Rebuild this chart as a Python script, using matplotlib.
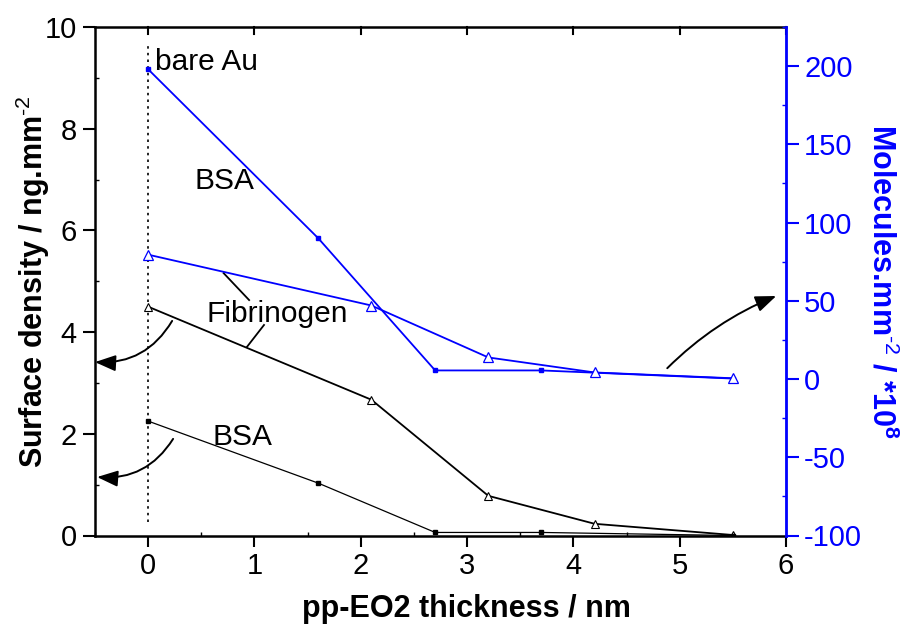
import matplotlib
matplotlib.use("Agg")
import matplotlib.pyplot as plt
from matplotlib.ticker import MultipleLocator

plt.rcParams['font.family'] = ['Liberation Sans', 'DejaVu Sans']
plt.rcParams['axes.unicode_minus'] = False
plt.rcParams['mathtext.fontset'] = 'custom'
plt.rcParams['mathtext.rm'] = 'Liberation Sans'
plt.rcParams['mathtext.bf'] = 'Liberation Sans:bold'

# Left axis (surface density, ng/mm^2)
fib_x = [0, 2.1, 3.2, 4.2, 5.5]
fib_density = [4.5, 2.67, 0.78, 0.23, 0.01]
bsa_x = [0, 1.6, 2.7, 3.7, 5.5]
bsa_density = [2.25, 1.03, 0.06, 0.06, 0.0]

# Right axis (molecules/mm^2, *1e8)
bsa_molecules = [198, 90, 5.5, 5.5, 0.3]
fib_molecules = [79.5, 47, 13.8, 4.2, 0.5]

x_ticks = [0, 1, 2, 3, 4, 5, 6]
left_ticks = [0, 2, 4, 6, 8, 10]
right_ticks = [-100, -50, 0, 50, 100, 150, 200]

BLUE = '#0000ff'
FS = 21
LFS = 22

fig = plt.figure(figsize=(9.07, 6.25), dpi=100)
ax = fig.add_axes([0.1047, 0.1432, 0.7619, 0.8136])
ax2 = ax.twinx()

ax.plot(fib_x, fib_density, color='black', lw=1.3, marker='^', ms=6,
        mfc='white', mec='black', mew=0.8, zorder=3)
ax.plot(bsa_x, bsa_density, color='black', lw=0.9, marker='s', ms=3,
        mfc='black', mec='black', zorder=3)
ax2.plot(bsa_x, bsa_molecules, color=BLUE, lw=1.3, marker='s', ms=3,
         mfc=BLUE, mec=BLUE, zorder=3)
ax2.plot(fib_x, fib_molecules, color=BLUE, lw=1.3, marker='^', ms=7,
         mfc='white', mec=BLUE, mew=0.9, zorder=3)

ax.plot([0, 0], [0.27, 9.65], color='black', lw=1.2, ls=(0, (1.5, 2.5)))

ax.set_xlim(-0.5, 6)
ax.set_ylim(0, 10)
ax2.set_ylim(-100, 225)

ax.set_xticks(x_ticks)
ax.set_yticks(left_ticks)
ax2.set_yticks(right_ticks)
ax.xaxis.set_minor_locator(MultipleLocator(0.5))
ax.yaxis.set_minor_locator(MultipleLocator(1))
ax2.yaxis.set_minor_locator(MultipleLocator(25))

ax.tick_params(axis='x', which='major', direction='out', length=8, width=1.5,
               labelsize=FS, top=False, pad=4)
ax.tick_params(axis='x', which='minor', direction='in', length=3, width=1, top=False)
ax.tick_params(axis='y', which='major', direction='out', length=9, width=1.5,
               labelsize=FS, pad=4)
ax.tick_params(axis='y', which='minor', direction='in', length=3, width=1)
ax2.tick_params(axis='y', which='major', direction='out', length=9, width=1.5,
                labelsize=FS, colors=BLUE, pad=4)
ax2.tick_params(axis='y', which='minor', direction='in', length=3, width=1, colors=BLUE)

# top ticks inward at majors
for xt in x_ticks:
    ax.plot([xt, xt], [10, 9.86], color='black', lw=1.5, clip_on=False)

for s in ['left', 'bottom', 'top']:
    ax.spines[s].set_linewidth(1.8)
ax2.spines['right'].set_color(BLUE)
ax2.spines['right'].set_linewidth(2)
for s in ['left', 'bottom', 'top']:
    ax2.spines[s].set_visible(False)

ax.set_xlabel('pp-EO2 thickness / nm', fontsize=LFS, fontweight='bold')
ax.xaxis.set_label_coords(0.537, -0.115)
ax.set_ylabel('Surface density / ng.mm$^{\\text{-2}}$', fontsize=LFS,
              fontweight='bold', labelpad=0)
ax.yaxis.set_label_coords(-0.062, 0.5)
ax2.set_ylabel('Molecules.mm$^{\\text{-2}}$ / *10$^{\\mathbf{8}}$', fontsize=LFS,
               fontweight='bold', color=BLUE, rotation=270, labelpad=0)
ax2.yaxis.set_label_coords(1.161, 0.5)

# annotations
AFS = 21.5
ax.text(0.066, 9.31, 'bare Au', fontsize=AFS, va='center', ha='left')
ax.text(0.44, 6.97, 'BSA', fontsize=AFS, va='center', ha='left')
ax.text(0.55, 4.36, 'Fibrinogen', fontsize=AFS, va='center', ha='left')
ax.text(0.61, 1.94, 'BSA', fontsize=AFS, va='center', ha='left')

# leader lines
ax.plot([0.71, 0.95], [5.16, 4.63], color='black', lw=1.3)
ax.plot([1.09, 0.93], [4.14, 3.71], color='black', lw=1.3)

arrow_style = '-|>,head_length=0.9,head_width=0.35'
ax.annotate('', xy=(-0.5, 3.41), xytext=(0.226, 4.22),
            arrowprops=dict(arrowstyle=arrow_style, color='black', lw=1.4,
                            mutation_scale=14, connectionstyle='arc3,rad=-0.3',
                            shrinkA=0, shrinkB=0), annotation_clip=False)
ax.annotate('', xy=(-0.48, 1.15), xytext=(0.235, 1.90),
            arrowprops=dict(arrowstyle=arrow_style, color='black', lw=1.4,
                            mutation_scale=14, connectionstyle='arc3,rad=-0.3',
                            shrinkA=0, shrinkB=0), annotation_clip=False)
ax.annotate('', xy=(5.908, 4.71), xytext=(4.883, 3.29),
            arrowprops=dict(arrowstyle=arrow_style, color='black', lw=1.4,
                            mutation_scale=14, connectionstyle='arc3,rad=-0.1',
                            shrinkA=0, shrinkB=0), annotation_clip=False)

fig.savefig('out.png', dpi=100)
